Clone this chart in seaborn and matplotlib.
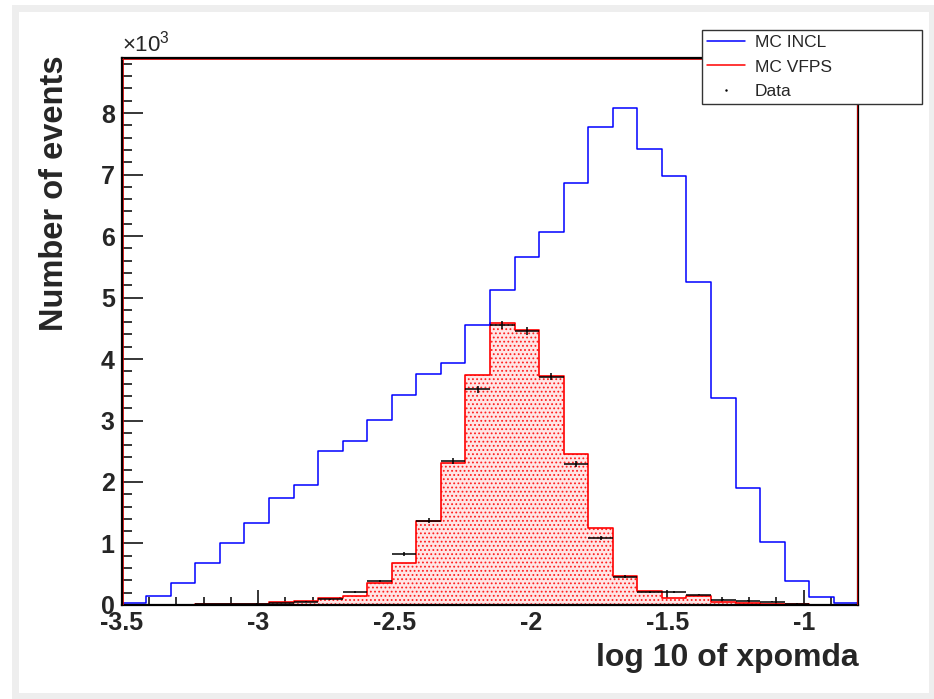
import numpy as np
import pandas as pd
import matplotlib
matplotlib.use("Agg")
import matplotlib.pyplot as plt
from matplotlib.lines import Line2D
from matplotlib.patches import Rectangle
import seaborn as sns

# ---------------- data (30 bins of 0.09 from -3.5 to -0.8) ----------------
bin_edges = [-3.5, -3.41, -3.32, -3.23, -3.14, -3.05, -2.96, -2.87, -2.78, -2.69,
             -2.60, -2.51, -2.42, -2.33, -2.24, -2.15, -2.06, -1.97, -1.88, -1.79,
             -1.70, -1.61, -1.52, -1.43, -1.34, -1.25, -1.16, -1.07, -0.98, -0.89, -0.80]
bin_centers = [-3.455, -3.365, -3.275, -3.185, -3.095, -3.005, -2.915, -2.825, -2.735, -2.645,
               -2.555, -2.465, -2.375, -2.285, -2.195, -2.105, -2.015, -1.925, -1.835, -1.745,
               -1.655, -1.565, -1.475, -1.385, -1.295, -1.205, -1.115, -1.025, -0.935, -0.845]

mc_incl = [40, 150, 350, 680, 1010, 1330, 1745, 1950, 2510, 2670,
           3010, 3415, 3755, 3940, 4560, 5120, 5665, 6060, 6860, 7765,
           8085, 7420, 6975, 5255, 3370, 1910, 1020, 390, 125, 40]

mc_vfps = [3, 3, 5, 8, 12, 20, 54, 65, 108, 146,
           352, 690, 1366, 2305, 3740, 4580, 4475, 3725, 2450, 1250,
           472, 228, 119, 146, 54, 38, 8, 20, 5, 2]

data_counts = [0, 2, 5, 8, 15, 22, 30, 55, 95, 217,
               390, 825, 1370, 2340, 3505, 4555, 4460, 3712, 2295, 1085,
               462, 212, 206, 168, 82, 65, 54, 20, 6, 1]

x_tick_vals = [-3.5, -3.0, -2.5, -2.0, -1.5, -1.0]
x_tick_labels = ["-3.5", "-3", "-2.5", "-2", "-1.5", "-1"]
y_tick_vals = [0, 1000, 2000, 3000, 4000, 5000, 6000, 7000, 8000]
y_tick_labels = ["0", "1", "2", "3", "4", "5", "6", "7", "8"]

df = pd.DataFrame({"x": bin_centers, "incl": mc_incl, "vfps": mc_vfps, "data": data_counts})

# ---------------- style ----------------
sns.set_theme(style="white")
plt.rcParams["font.family"] = ["Liberation Sans", "DejaVu Sans"]
plt.rcParams["mathtext.fontset"] = "custom"
plt.rcParams["mathtext.rm"] = "Liberation Sans"
plt.rcParams["hatch.linewidth"] = 0.8

fig = plt.figure(figsize=(9.34, 6.99), dpi=100)
fig.patch.set_facecolor("white")
ax = fig.add_axes([0.1303, 0.1345, 0.7887, 0.7821])

# filled (hatched) VFPS histogram
sns.histplot(data=df, x="x", weights="vfps", bins=bin_edges, element="step",
             fill=True, ax=ax, color="red", linewidth=0)
fill_coll = ax.collections[-1]
fill_coll.set_facecolor("#ffe6e6")
fill_coll.set_edgecolor("#ff2020")
fill_coll.set_hatch("....")
fill_coll.set_linewidth(0)

# outlines
sns.histplot(data=df, x="x", weights="vfps", bins=bin_edges, element="step",
             fill=False, ax=ax, color="#ff0000", linewidth=1.2)
sns.histplot(data=df, x="x", weights="incl", bins=bin_edges, element="step",
             fill=False, ax=ax, color="#0000ff", linewidth=1.1)

# data points with errors
ax.errorbar(df["x"], df["data"], xerr=0.045, yerr=np.sqrt(df["data"]),
            fmt="none", ecolor="black", elinewidth=1.1, capsize=0, zorder=5)

# ---------------- axes ----------------
ax.set_xlim(-3.5, -0.8)
ax.set_ylim(0, 8890)
ax.set_xticks(x_tick_vals)
ax.set_xticklabels(x_tick_labels)
ax.set_yticks(y_tick_vals)
ax.set_yticklabels(y_tick_labels)
ax.set_xticks(np.arange(-3.4, -0.8, 0.1), minor=True)
ax.set_yticks(np.arange(200, 8890, 200), minor=True)

ax.tick_params(axis="x", which="major", direction="in", length=11, width=1.1,
               bottom=True, top=False, labelsize=18, pad=4, color="black")
ax.tick_params(axis="x", which="minor", direction="in", length=5.5, width=1.1,
               bottom=True, top=False, color="black")
ax.tick_params(axis="y", which="major", direction="in", length=15, width=1.1,
               left=True, right=False, labelsize=18, pad=5, color="black")
ax.tick_params(axis="y", which="minor", direction="in", length=7.5, width=1.1,
               left=True, right=False, color="black")
for lab in ax.get_xticklabels() + ax.get_yticklabels():
    lab.set_fontweight("bold")

for sp in ax.spines.values():
    sp.set_color("black")
    sp.set_linewidth(1.6)
    sp.set_visible(True)
# thin red inner frame as in the reference
ax.plot([0, 1], [0.998, 0.998], transform=ax.transAxes, color="#cc0000", lw=0.6, zorder=6)
ax.plot([0.0015, 0.0015], [0, 1], transform=ax.transAxes, color="#cc0000", lw=0.6, zorder=6)
ax.plot([0.9985, 0.9985], [0, 1], transform=ax.transAxes, color="#cc0000", lw=0.6, zorder=6)

ax.set_xlabel("log 10 of xpomda", fontsize=23, fontweight="bold", ha="right", va="top")
ax.xaxis.set_label_coords(1.0, -0.070)
ax.set_ylabel("Number of events", fontsize=23.5, fontweight="bold",
              ha="center", va="top", rotation=90, rotation_mode="default")
ax.yaxis.set_label_coords(-0.0915, 1.006)

ax.text(0.0, 1.003, r"$\times$10$^{3}$", transform=ax.transAxes, fontsize=16,
        ha="left", va="bottom")

# legend
handles = [Line2D([], [], color="#0000ff", lw=1.1),
           Line2D([], [], color="#ff0000", lw=1.1),
           Line2D([], [], color="black", lw=0, marker=".", markersize=1.5)]
leg = fig.legend(handles, ["MC INCL", "MC VFPS", "Data"], loc="upper left",
                 bbox_to_anchor=(702 / 934, 1 - 102 / 699, 220 / 934, 72 / 699),
                 mode="expand", fontsize=12.5,
                 frameon=True, fancybox=False, shadow=False, borderpad=0.3,
                 handlelength=2.2, handletextpad=0.55, labelspacing=0.52,
                 borderaxespad=0, framealpha=1)
leg.get_frame().set_edgecolor("#333333")
leg.get_frame().set_linewidth(1.0)
leg.set_zorder(10)

# light grey canvas border
fig.patches.append(Rectangle((15 / 934, 3 / 699), 917 / 934, 688 / 699,
                             transform=fig.transFigure, fill=False,
                             edgecolor="#eeeeee", lw=5, zorder=0))

fig.savefig("out.png", dpi=100, facecolor=fig.get_facecolor())
